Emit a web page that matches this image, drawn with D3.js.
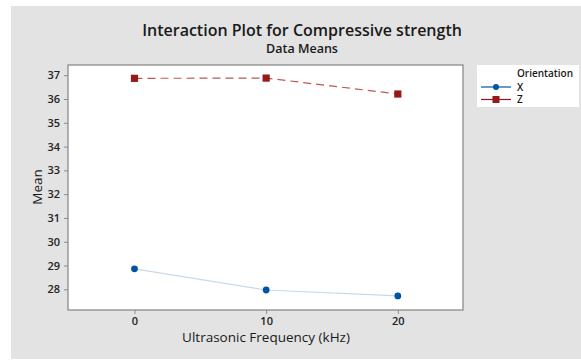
<!DOCTYPE html>
<html>
<head>
<meta charset="utf-8">
<script src="https://cdn.jsdelivr.net/npm/d3@7"></script>
<style>
  body { margin: 0; background: #fff; }
  text { font-family: "Open Sans", "Noto Sans", sans-serif; fill: #1a1a1a; }
</style>
</head>
<body>
<div id="chart"></div>
<script>
var frequencies = [0, 10, 20];
var means_x = [28.86, 27.97, 27.72];
var means_z = [36.87, 36.88, 36.21];
var y_ticks = [28, 29, 30, 31, 32, 33, 34, 35, 36, 37];
var series = [
  { name: "X", values: means_x, color: "#0054a6", line: "#c9d9ec", dash: null, shape: "circle" },
  { name: "Z", values: means_z, color: "#971818", line: "#b85a5a", dash: "8,5", shape: "square" }
];

var W = 581, H = 360;
var plot = { left: 68, top: 65, right: 463, bottom: 310 };

var svg = d3.select("#chart").append("svg")
  .attr("width", W)
  .attr("height", H);

// grey panel
svg.append("rect")
  .attr("x", 11).attr("y", 6)
  .attr("width", W - 11).attr("height", H - 7)
  .style("fill", "#e3e3e3");

var x = d3.scaleLinear().domain([-5.05, 24.95]).range([plot.left, plot.right]);
var y = d3.scaleLinear().domain([27.13, 37.43]).range([plot.bottom, plot.top]);

svg.append("rect")
  .attr("x", plot.left).attr("y", plot.top)
  .attr("width", plot.right - plot.left).attr("height", plot.bottom - plot.top)
  .style("fill", "#fff")
  .style("stroke", "#8c8c8c")
  .style("stroke-width", 1.3);

// axes
var yAxis = svg.append("g")
  .attr("transform", "translate(" + plot.left + ",0)")
  .call(d3.axisLeft(y).tickValues(y_ticks).tickSize(4).tickPadding(4));

var xAxis = svg.append("g")
  .attr("transform", "translate(0," + plot.bottom + ")")
  .call(d3.axisBottom(x).tickValues(frequencies).tickSize(4).tickPadding(3));

[yAxis, xAxis].forEach(function(a) {
  a.select(".domain").remove();
  a.selectAll("line").style("stroke", "#8c8c8c");
  a.selectAll("text")
    .style("font-family", "'Open Sans', sans-serif")
    .style("font-size", "11px")
    .style("font-weight", "600")
    .style("fill", "#222");
});

// series
var line = d3.line()
  .x(function(d, i) { return x(frequencies[i]); })
  .y(function(d) { return y(d); });

series.forEach(function(s) {
  svg.append("path")
    .datum(s.values)
    .attr("d", line)
    .style("fill", "none")
    .style("stroke", s.line)
    .style("stroke-width", 1.2)
    .style("stroke-dasharray", s.dash);

  var g = svg.append("g");
  if (s.shape == "circle") {
    g.selectAll("circle").data(s.values).enter().append("circle")
      .attr("cx", function(d, i) { return x(frequencies[i]); })
      .attr("cy", function(d) { return y(d); })
      .attr("r", 3.4)
      .style("fill", s.color);
  } else {
    g.selectAll("rect").data(s.values).enter().append("rect")
      .attr("x", function(d, i) { return x(frequencies[i]) - 3.6; })
      .attr("y", function(d) { return y(d) - 3.6; })
      .attr("width", 7.2).attr("height", 7.2)
      .style("fill", s.color);
  }
});

// titles
svg.append("text")
  .attr("x", 302).attr("y", 36)
  .attr("text-anchor", "middle")
  .style("font-size", "16px")
  .style("font-weight", "600")
  .text("Interaction Plot for Compressive strength");

svg.append("text")
  .attr("x", 302).attr("y", 53)
  .attr("text-anchor", "middle")
  .style("font-size", "12.5px")
  .style("font-weight", "600")
  .text("Data Means");

svg.append("text")
  .attr("x", 266).attr("y", 342)
  .attr("text-anchor", "middle")
  .style("font-size", "13.5px")
  .text("Ultrasonic Frequency (kHz)");

svg.append("text")
  .attr("transform", "translate(42,187) rotate(-90)")
  .attr("text-anchor", "middle")
  .style("font-size", "13.5px")
  .text("Mean");

// legend
var legend = svg.append("g").attr("transform", "translate(477,65)");
legend.append("rect")
  .attr("width", 102).attr("height", 42)
  .style("fill", "#fff");
legend.append("text")
  .attr("x", 40).attr("y", 12)
  .style("font-size", "10px")
  .style("font-weight", "600")
  .text("Orientation");

series.forEach(function(s, i) {
  var ry = 22 + i * 12.5;
  legend.append("line")
    .attr("x1", 4).attr("x2", 34)
    .attr("y1", ry).attr("y2", ry)
    .style("stroke", s.color)
    .style("stroke-width", 1.2);
  if (s.shape == "circle") {
    legend.append("circle").attr("cx", 19).attr("cy", ry).attr("r", 3).style("fill", s.color);
  } else {
    legend.append("rect").attr("x", 15.5).attr("y", ry - 3.5).attr("width", 7).attr("height", 7).style("fill", s.color);
  }
  legend.append("text")
    .attr("x", 40).attr("y", ry + 3.5)
    .style("font-size", "10px")
    .style("font-weight", "600")
    .text(s.name);
});
</script>
</body>
</html>
